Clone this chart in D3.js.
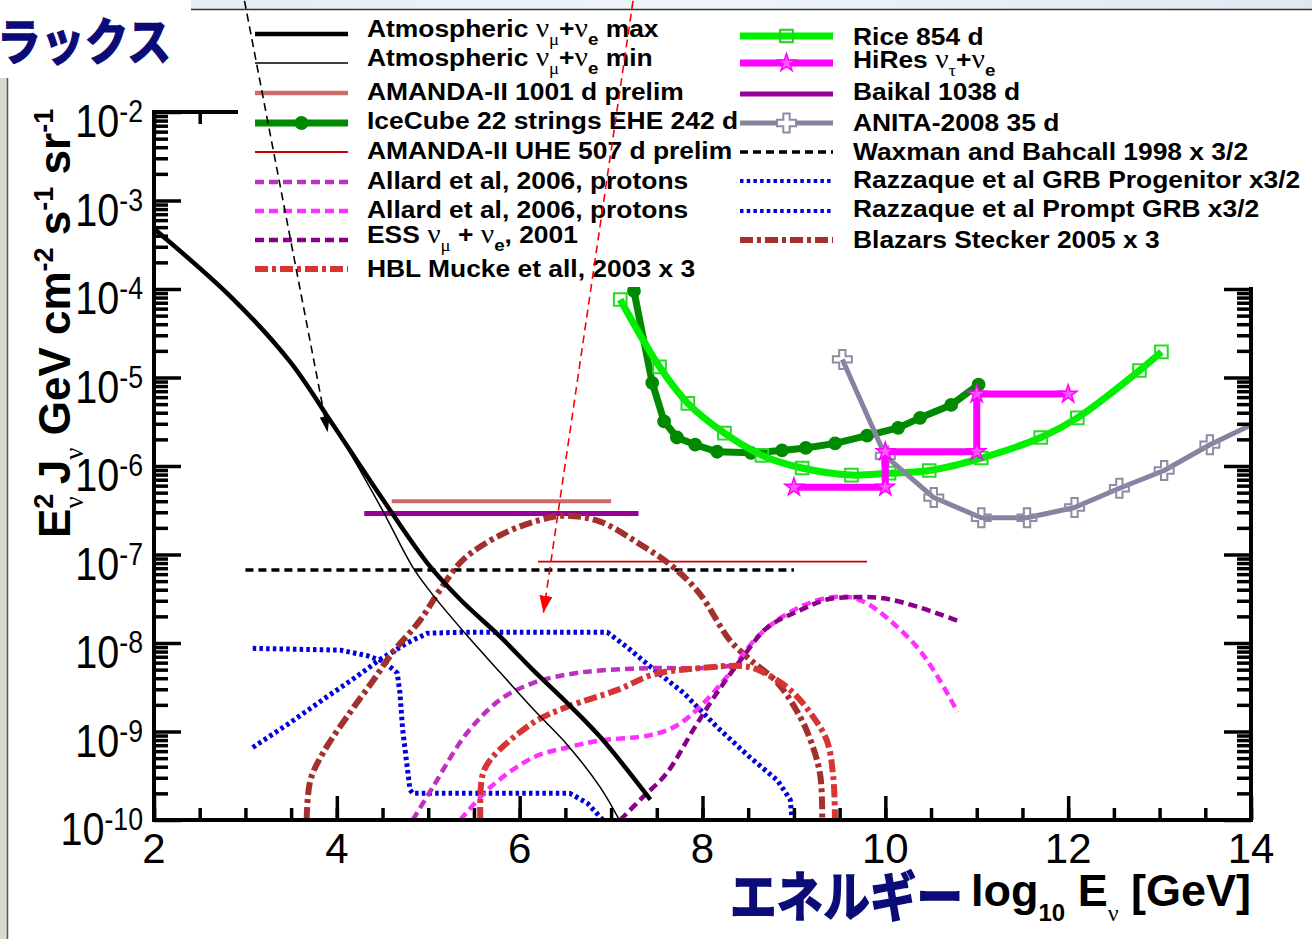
<!DOCTYPE html>
<html>
<head>
<meta charset="utf-8">
<title>neutrino flux limits</title>
<script src="https://cdnjs.cloudflare.com/ajax/libs/d3/7.8.5/d3.min.js"></script>
<style>
  body { margin: 0; background: #fff; }
  svg { display: block; font-family: "Liberation Sans", Arial, sans-serif; }
</style>
</head>
<body>
<div id="chart"></div>
<script>
// x = log10 E [GeV], y = E^2 J  [GeV cm^-2 s^-1 sr^-1]
var xTicks = [2, 4, 6, 8, 10, 12, 14];
var yTickExp = [-10, -9, -8, -7, -6, -5, -4, -3, -2];

var atmMax = [[2.01,4.7e-4],[2.86,7.8e-5],[3.49,1.5e-5],[3.96,2.9e-6],[4.47,4.7e-7],[4.99,8.0e-8],
              [5.35,3.1e-8],[5.79,1.17e-8],[6.15,4.9e-9],[6.52,2.1e-9],[6.88,8.7e-10],[7.43,1.7e-10]];
var atmMin = [[2.01,4.7e-4],[2.86,7.8e-5],[3.49,1.5e-5],[3.96,2.9e-6],[4.47,3.6e-7],[4.83,7.2e-8],
              [5.05,3.5e-8],[5.42,1.23e-8],[5.79,4.6e-9],[6.15,1.78e-9],[6.52,7.1e-10],[6.88,2.35e-10],[7.09,1e-10]];
var amanda1001 = [[4.6,4.0e-7],[7.0,4.0e-7]];
var baikal = [[4.3,2.9e-7],[7.3,2.9e-7]];
var amandaUHE = [[6.2,8.3e-8],[9.8,8.3e-8]];
var waxman = [[3.0,6.7e-8],[9.0,6.7e-8]];
var icecube = [[7.25,9.5e-5],[7.45,8.7e-6],[7.58,3.2e-6],[7.72,2.1e-6],[7.92,1.74e-6],[8.16,1.45e-6],
               [8.53,1.41e-6],[8.87,1.5e-6],[9.13,1.6e-6],[9.45,1.8e-6],[9.80,2.2e-6],[10.14,2.7e-6],
               [10.38,3.5e-6],[10.72,4.9e-6],[11.02,8.3e-6]];
var rice = [[7.10,7.6e-5],[7.53,1.32e-5],[7.84,5.1e-6],[8.24,2.35e-6],[8.65,1.32e-6],[9.09,9.5e-7],
            [9.63,7.9e-7],[10.04,8.3e-7],[10.48,8.9e-7],[11.05,1.23e-6],[11.70,2.1e-6],[12.10,3.5e-6],
            [12.78,1.2e-5],[13.02,1.95e-5]];
var hires = [[9,5.75e-7],[10,5.75e-7],[10,1.45e-6],[11,1.45e-6],[11,6.5e-6],[12,6.5e-6]];
var anita = [[9.53,1.6e-5],[10.0,1.3e-6],[10.53,4.4e-7],[11.05,2.6e-7],[11.55,2.6e-7],[12.07,3.4e-7],
             [12.56,5.6e-7],[13.05,8.9e-7],[13.55,1.74e-6],[14.0,2.9e-6]];
var allard1 = [[4.83,1e-10],[5.05,2.35e-10],[5.42,9.5e-10],[5.79,2.3e-9],[6.15,3.55e-9],[6.52,4.4e-9],
               [6.88,4.9e-9],[7.43,5.2e-9],[7.97,5.2e-9],[8.30,5.5e-9]];
var allard2 = [[5.35,1e-10],[5.68,2.35e-10],[6.15,5.1e-10],[6.52,6.6e-10],[6.88,7.9e-10],[7.43,9.1e-10],
               [7.72,1.17e-9],[7.97,1.9e-9],[8.27,4.2e-9],[8.60,1.17e-8],[8.96,2.24e-8],[9.32,3.16e-8],
               [9.61,3.3e-8],[9.80,2.8e-8],[10.05,1.8e-8],[10.35,8.9e-9],[10.57,4.2e-9],[10.79,1.66e-9]];
var ess = [[7.10,1e-10],[7.32,1.7e-10],[7.61,3.4e-10],[7.90,1.05e-9],[8.16,2.75e-9],[8.44,6.9e-9],
           [8.71,1.5e-8],[9.07,2.35e-8],[9.36,3.1e-8],[9.69,3.3e-8],[9.98,3.2e-8],[10.35,2.57e-8],[10.82,1.74e-8]];
var hbl = [[5.57,1e-10],[5.59,3.1e-10],[5.68,4.8e-10],[6.15,1.26e-9],[6.52,1.9e-9],[7.07,2.95e-9],
           [7.46,4.4e-9],[7.97,5.2e-9],[8.49,5.4e-9],[8.71,4.4e-9],[8.96,2.95e-9],[9.18,1.62e-9],
           [9.36,7.9e-10],[9.43,3.1e-10],[9.45,1e-10]];
var blazars = [[3.67,1e-10],[3.71,2.8e-10],[3.85,5.75e-10],[4.14,1.62e-9],[4.40,3.8e-9],[4.61,7.8e-9],
               [4.91,1.8e-8],[5.13,4.0e-8],[5.38,8.7e-8],[5.79,1.66e-7],[6.22,2.45e-7],[6.50,2.75e-7],
               [6.88,2.35e-7],[7.32,1.3e-7],[7.68,7.2e-8],[7.97,3.6e-8],[8.30,1.07e-8],[8.52,6.5e-9],
               [8.82,3.55e-9],[9.07,1.45e-9],[9.21,6.6e-10],[9.29,3.1e-10],[9.31,1e-10]];
var grbProgenitor = [[3.08,8.7e-9],[4.04,8.3e-9],[4.33,7.2e-9],[4.51,6.2e-9],[4.66,4.6e-9],[4.69,2.75e-9],
                     [4.72,1.05e-9],[4.80,2.2e-10],[4.83,2.0e-10],[6.55,2.0e-10],[6.74,1.55e-10],[6.91,1e-10]];
var grbPrompt = [[3.08,6.6e-10],[3.49,1.26e-9],[3.85,2.3e-9],[4.22,4.2e-9],[4.47,6.5e-9],[4.77,1.0e-8],
                 [4.99,1.29e-8],[5.35,1.32e-8],[6.96,1.32e-8],[7.18,8.9e-9],[7.43,5.4e-9],[7.79,2.75e-9],
                 [8.16,1.12e-9],[8.52,5.1e-10],[8.82,2.8e-10],[8.96,1.7e-10],[8.98,1e-10]];
// annotation arrows (start above the frame, tip on the plot)
var blackArrow = [[2.99,0.18],[3.90,2.4e-6]];
var redArrow = [[7.24,0.18],[6.26,2.2e-8]];

var W = 1312, H = 939;
var serif = "'Liberation Serif','DejaVu Serif',serif";
var navy = "#0c0c78";

var svg = d3.select("#chart").append("svg").attr("width", W).attr("height", H);

var x = d3.scaleLinear().domain([2, 14]).range([154, 1251]);
var y = d3.scaleLog().domain([1e-10, 1e-2]).range([820, 112]);

var defs = svg.append("defs");
defs.append("clipPath").attr("id", "clip").append("rect")
    .attr("x", x(2)).attr("y", y(1e-2)).attr("width", x(14) - x(2)).attr("height", y(1e-10) - y(1e-2));
function arrowHead(id, color, len, wid) {
  defs.append("marker").attr("id", id).attr("viewBox", "0 0 " + len + " " + wid)
      .attr("refX", len).attr("refY", wid / 2).attr("markerWidth", len).attr("markerHeight", wid)
      .attr("markerUnits", "userSpaceOnUse").attr("orient", "auto")
    .append("path").attr("d", "M0,0L" + len + "," + wid / 2 + "L0," + wid + "Z").attr("fill", color);
}
arrowHead("ahBlack", "#000", 16, 10);
arrowHead("ahRed", "#ff0000", 17, 13);

// slide background bits
var band = defs.append("linearGradient").attr("id", "band");
band.append("stop").attr("offset", "0%").attr("stop-color", "#e4edf5");
band.append("stop").attr("offset", "45%").attr("stop-color", "#f0f4f8");
band.append("stop").attr("offset", "100%").attr("stop-color", "#dfe8f1");
svg.append("rect").attr("x", 191).attr("y", 0).attr("width", W - 191).attr("height", 9).attr("fill", "url(#band)");
svg.append("line").attr("x1", 191).attr("x2", W).attr("y1", 9.5).attr("y2", 9.5).attr("stroke", "#333").attr("stroke-width", 1.5);
svg.append("rect").attr("x", 0).attr("y", 78).attr("width", 7).attr("height", H - 78).attr("fill", "#d9d9cf");
svg.append("line").attr("x1", 7.5).attr("x2", 7.5).attr("y1", 78).attr("y2", H).attr("stroke", "#555").attr("stroke-width", 1.5);
svg.append("text").attr("x", -3).attr("y", 60).attr("font-family", "'Noto Sans CJK JP',sans-serif")
    .attr("font-weight", "bold").attr("font-size", 50).attr("fill", navy)
    .attr("stroke", navy).attr("stroke-width", 1.6).attr("textLength", 174)
    .attr("lengthAdjust", "spacingAndGlyphs").text("ラックス");
svg.append("text").attr("x", 730).attr("y", 917).attr("font-family", "'Noto Sans CJK JP',sans-serif")
    .attr("font-weight", "bold").attr("font-size", 54).attr("fill", navy)
    .attr("stroke", navy).attr("stroke-width", 1.6).attr("textLength", 233)
    .attr("lengthAdjust", "spacingAndGlyphs").text("エネルギー");

// ---- curves
var plot = svg.append("g").attr("clip-path", "url(#clip)");
function curve(data, color, width, dash, smooth) {
  var gen = d3.line().x(function(d) { return x(d[0]); }).y(function(d) { return y(d[1]); })
      .curve(smooth ? d3.curveCatmullRom : d3.curveLinear);
  return plot.append("path").datum(data).attr("d", gen).attr("fill", "none")
      .attr("stroke", color).attr("stroke-width", width)
      .attr("stroke-dasharray", dash || null).attr("stroke-linejoin", "round");
}
function markers(data, sym, size, fill, stroke, sw) {
  plot.append("g").selectAll("path").data(data).enter().append("path")
      .attr("transform", function(d) { return "translate(" + x(d[0]) + "," + y(d[1]) + ")"; })
      .attr("d", d3.symbol().type(sym).size(size))
      .attr("fill", fill).attr("stroke", stroke).attr("stroke-width", sw);
}

var DASH = "9,5", DASHDOT = "13,4,4,4", DOT = "3.5,3.2", WB = "8,5";

curve(amanda1001, "#cd6a6a", 4);
curve(baikal, "#990099", 5);
curve(amandaUHE, "#cc0000", 1.8);
curve(waxman, "#000", 3.5, WB);
curve(grbProgenitor, "#0000dd", 5, DOT);
curve(grbPrompt, "#0000dd", 5, DOT);
curve(blazars, "#a3302c", 6, DASHDOT, true);
curve(allard1, "#c030c0", 4.5, DASH, true);
curve(allard2, "#ff30ff", 4.5, DASH, true);
curve(ess, "#880088", 4.5, DASH, true);
curve(hbl, "#d83434", 6, DASHDOT, true);
curve(atmMin, "#000", 1.5, null, true);
curve(atmMax, "#000", 4.5, null, true);
curve(icecube, "#008a00", 7);
markers(icecube, d3.symbolCircle, 150, "#008a00", "none", 0);
curve(rice, "#00f000", 7, null, true);
markers(rice, d3.symbolSquare, 160, "none", "#22dd22", 2);
curve(anita, "#8484a0", 5);
markers(anita.slice(0, -1), d3.symbolCross, 200, "none", "#8c8ca4", 2);
curve(hires, "#ff00ff", 7);
markers(hires, d3.symbolStar, 100, "#ff55ff", "#ff00ff", 1.5);

// ---- axes
var minorY = [];
yTickExp.slice(0, -1).forEach(function(p) {
  [2, 3, 4, 5, 6, 7, 8, 9].forEach(function(k) { minorY.push(k * Math.pow(10, p)); });
});
var majorY = yTickExp.map(function(p) { return Math.pow(10, p); });
var minorX = d3.range(2, 14.01, 0.5);

function axis(gen, tr, vals, size) {
  var g = svg.append("g").attr("transform", tr)
      .call(gen.tickValues(vals).tickSize(size).tickFormat(""));
  g.select(".domain").remove();
  g.selectAll(".tick line").attr("stroke", "#000").attr("stroke-width", 3.5);
}
axis(d3.axisRight(y), "translate(" + x(2) + ",0)", majorY, 27);
axis(d3.axisRight(y), "translate(" + x(2) + ",0)", minorY, 14);
axis(d3.axisLeft(y), "translate(" + x(14) + ",0)", majorY, 27);
axis(d3.axisLeft(y), "translate(" + x(14) + ",0)", minorY, 14);
axis(d3.axisTop(x), "translate(0," + y(1e-10) + ")", xTicks, 24);
axis(d3.axisTop(x), "translate(0," + y(1e-10) + ")", minorX, 12);
axis(d3.axisBottom(x), "translate(0," + y(1e-2) + ")", xTicks, 24);
axis(d3.axisBottom(x), "translate(0," + y(1e-2) + ")", minorX, 12);
svg.append("rect").attr("x", x(2)).attr("y", y(1e-2)).attr("width", x(14) - x(2))
    .attr("height", y(1e-10) - y(1e-2)).attr("fill", "none").attr("stroke", "#000").attr("stroke-width", 4);

// tick labels
yTickExp.forEach(function(p) {
  var t = svg.append("text").attr("text-anchor", "end").attr("font-size", 46)
      .attr("transform", "translate(143," + (y(Math.pow(10, p)) + 25) + ") scale(0.86,1)");
  t.append("tspan").text("10");
  t.append("tspan").attr("font-size", 31).attr("dy", -15).text(String(p));
});
xTicks.forEach(function(v) {
  svg.append("text").attr("x", x(v)).attr("y", 863).attr("text-anchor", "middle")
      .attr("font-size", 42).text(v);
});

// rich text helper: kind "s" subscript, "^" superscript, "g" greek (serif)
function rich(t, parts, size, small, shift, greekSize) {
  var off = 0;
  parts.forEach(function(p) {
    var kind = p[1] || "";
    var sub = kind.indexOf("s") >= 0, sup = kind.indexOf("^") >= 0;
    var target = sub ? shift[0] : sup ? -shift[1] : 0;
    var ts = t.append("tspan").text(p[0]).attr("dy", target - off);
    if (p[2]) ts.attr("dx", p[2]);
    off = target;
    if (sub || sup) ts.attr("font-size", small);
    if (kind.indexOf("g") >= 0) {
      ts.attr("font-family", serif).attr("font-weight", "normal");
      if (!sub && greekSize) ts.attr("font-size", greekSize);
    }
  });
}

var yTitle = svg.append("text").attr("transform", "translate(70,538) rotate(-90)")
    .attr("font-size", 44).attr("font-weight", "bold");
rich(yTitle, [["E"], ["2", "^"], ["\u03bd", "gs", -15], [" J"], ["\u03bd", "gs"], [" GeV cm"], ["-2", "^"],
              [" s"], ["-1", "^"], [" sr"], ["-1", "^"]], 44, 27, [13, 17]);

var xTitle = svg.append("text").attr("x", 971).attr("y", 906).attr("font-size", 45).attr("font-weight", "bold");
rich(xTitle, [["log"], ["10", "s"], [" E"], ["\u03bd", "gs"], [" [GeV]"]], 45, 24, [15, 0]);

// ---- legend
svg.append("rect").attr("x", 238).attr("y", 11).attr("width", W - 238).attr("height", 276).attr("fill", "#fff");

var legendLeft = [
  { parts: [["Atmospheric "], ["\u03bd", "g"], ["\u03bc", "gs"], ["+"], ["\u03bd", "g"], ["e", "s"], [" max"]], color: "#000", w: 4.5 },
  { parts: [["Atmospheric "], ["\u03bd", "g"], ["\u03bc", "gs"], ["+"], ["\u03bd", "g"], ["e", "s"], [" min"]], color: "#000", w: 1.5 },
  { parts: [["AMANDA-II 1001 d prelim"]], color: "#cd6a6a", w: 4.5 },
  { parts: [["IceCube 22 strings EHE 242 d"]], color: "#008a00", w: 7, mark: "ice" },
  { parts: [["AMANDA-II UHE 507 d prelim"]], color: "#cc0000", w: 1.8 },
  { parts: [["Allard et al, 2006, protons"]], color: "#c030c0", w: 4.5, dash: DASH },
  { parts: [["Allard et al, 2006, protons"]], color: "#ff30ff", w: 4.5, dash: DASH },
  { parts: [["ESS "], ["\u03bd", "g"], ["\u03bc", "gs"], [" + "], ["\u03bd", "g"], ["e", "s"], [", 2001"]], color: "#880088", w: 4.5, dash: DASH },
  { parts: [["HBL Mucke et all, 2003 x 3"]], color: "#d83434", w: 6, dash: DASHDOT }
];
var legendRight = [
  { parts: [["Rice 854 d"]], color: "#00f000", w: 7, mark: "rice" },
  { parts: [["HiRes "], ["\u03bd", "g"], ["\u03c4", "gs"], ["+"], ["\u03bd", "g"], ["e", "s"]], color: "#ff00ff", w: 7, mark: "hires" },
  { parts: [["Baikal 1038 d"]], color: "#990099", w: 5 },
  { parts: [["ANITA-2008 35 d"]], color: "#8484a0", w: 5, mark: "anita" },
  { parts: [["Waxman and Bahcall 1998 x 3/2"]], color: "#000", w: 3.5, dash: WB },
  { parts: [["Razzaque et al GRB Progenitor x3/2"]], color: "#0000dd", w: 4, dash: DOT },
  { parts: [["Razzaque et al Prompt GRB x3/2"]], color: "#0000dd", w: 4, dash: DOT },
  { parts: [["Blazars Stecker 2005 x 3"]], color: "#a3302c", w: 6, dash: DASHDOT }
];
var leftRowY = [34, 63, 93, 123, 152, 182, 211, 240, 269];
var leftBase = [37, 66, 100, 129, 159, 189, 218, 243, 277];
var rightRowY = [36, 63, 94, 123, 152, 181, 211, 240];
var rightBase = [45, 68, 100, 131, 160, 188, 217, 248];

var markStyle = {
  ice: { sym: d3.symbolCircle, size: 150, fill: "#008a00", stroke: "none", sw: 0 },
  rice: { sym: d3.symbolSquare, size: 160, fill: "none", stroke: "#22cc22", sw: 2 },
  hires: { sym: d3.symbolStar, size: 100, fill: "#ff55ff", stroke: "#ff00ff", sw: 1.5 },
  anita: { sym: d3.symbolCross, size: 200, fill: "#fff", stroke: "#8c8ca4", sw: 2 }
};

function legendColumn(items, rowY, base, x1, x2, tx) {
  items.forEach(function(it, i) {
    svg.append("line").attr("x1", x1).attr("x2", x2).attr("y1", rowY[i]).attr("y2", rowY[i])
        .attr("stroke", it.color).attr("stroke-width", it.w).attr("stroke-dasharray", it.dash || null);
    if (it.mark) {
      var m = markStyle[it.mark];
      svg.append("path").attr("transform", "translate(" + (x1 + x2) / 2 + "," + rowY[i] + ")")
          .attr("d", d3.symbol().type(m.sym).size(m.size))
          .attr("fill", m.fill).attr("stroke", m.stroke).attr("stroke-width", m.sw);
    }
    var t = svg.append("text").attr("font-size", 24).attr("font-weight", "bold")
        .attr("transform", "translate(" + tx + "," + base[i] + ") scale(1.1,1)");
    rich(t, it.parts, 24, 17, [8, 0], 27);
  });
}
legendColumn(legendLeft, leftRowY, leftBase, 255, 348, 367);
legendColumn(legendRight, rightRowY, rightBase, 740, 833, 853);

// ---- arrows
function arrow(d, color, head) {
  svg.append("line").attr("x1", x(d[0][0])).attr("y1", y(d[0][1]))
      .attr("x2", x(d[1][0])).attr("y2", y(d[1][1]))
      .attr("stroke", color).attr("stroke-width", 1.6).attr("stroke-dasharray", "8,5")
      .attr("marker-end", "url(#" + head + ")");
}
arrow(blackArrow, "#000", "ahBlack");
arrow(redArrow, "#ff0000", "ahRed");
</script>
</body>
</html>
